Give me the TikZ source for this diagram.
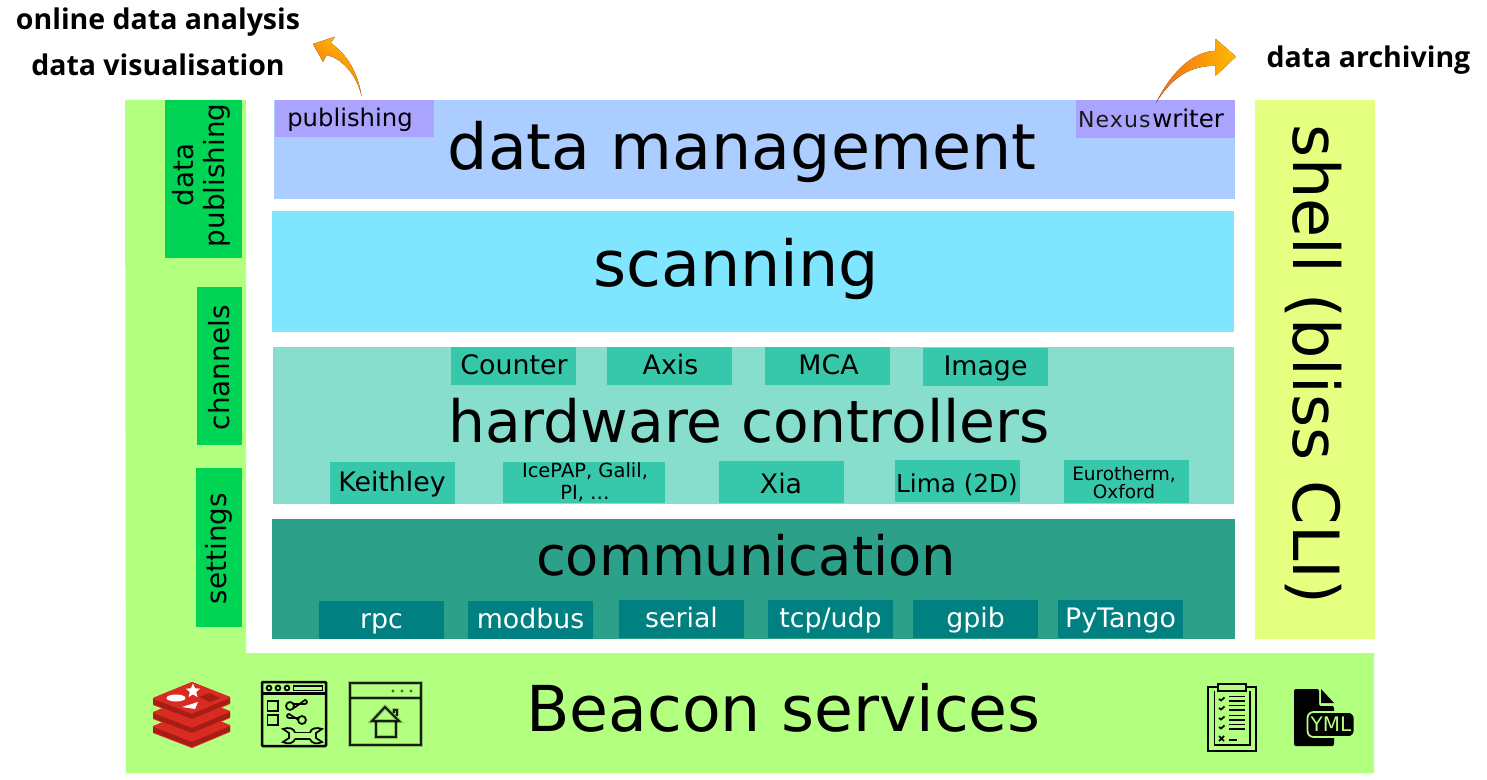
\documentclass[tikz,border=0pt]{standalone}
\usepackage{fontspec}
\usepackage{graphicx}
\setmainfont{DejaVu Sans}
\newfontfamily\labelfont{Open Sans}
\usetikzlibrary{shapes.geometric}
\newcommand\fs[1]{\pgfmathsetmacro\fsz{#1*0.5692}\pgfmathsetmacro\fsl{#1*0.5692*1.12}\fontsize{\fsz pt}{\fsl pt}\selectfont}
\definecolor{cmgmt}{HTML}{ABCDFF}
\definecolor{cpub}{HTML}{AAA4FF}
\definecolor{cscan}{HTML}{80E5FF}
\definecolor{chw}{HTML}{87DECD}
\definecolor{chwb}{HTML}{37C8AB}
\definecolor{ccomm}{HTML}{2CA089}
\definecolor{ccommb}{HTML}{008080}
\definecolor{cgreen}{HTML}{B3FF80}
\definecolor{cdkgreen}{HTML}{00D455}
\definecolor{cshell}{HTML}{E5FF80}
\definecolor{rlight}{HTML}{D92B21}
\definecolor{rdark}{HTML}{A41E15}
\definecolor{arrowa}{HTML}{F26A1B}
\definecolor{arrowb}{HTML}{FFBA00}
\tikzset{
  x=0.02cm,y=-0.02cm,
  boxnode/.style={inner sep=0pt,outer sep=0pt,draw=none,text height=0pt,text depth=0pt},
  iconline/.style={draw=black,line width=0.05cm,fill=none},
  iconthin/.style={draw=black,line width=0.035cm,fill=none},
  homeline/.style={draw=black,line width=0.04cm,draw opacity=.85,fill=none},
  homeblur/.style={draw=black,line width=0.08cm,draw opacity=.22,fill=none},
  big/.style={font=\fs{63.5}},
  mid/.style={font=\fs{26.8}},
  small/.style={font=\fs{18.5}},
  side/.style={font=\fs{27.8}},
  headline/.style={font=\labelfont\bfseries\fs{28.5},anchor=base,inner sep=0pt},
}
% name x1 y1 x2 y2 style textcx textbase text
\newcommand\bx[9]{%
  \pgfmathsetmacro\bxw{(#4-#2)*0.02}%
  \pgfmathsetmacro\bxh{(#5-#3)*0.02}%
  \pgfmathsetmacro\bxcx{(#2+#4)/2}%
  \pgfmathsetmacro\bxcy{(#3+#5)/2}%
  \pgfmathsetmacro\bxdx{(#7-\bxcx)*2*0.5692}%
  \pgfmathsetmacro\bxdy{(\bxcy-#8)*0.5692}%
  \node[boxnode,minimum width=\bxw cm,minimum height=\bxh cm,#6] (#1) at (\bxcx,\bxcy)
    {\makebox[0pt][c]{\hspace*{\bxdx pt}\raisebox{\bxdy pt}[0pt][0pt]{#9}}};%
}
\begin{document}
\begin{tikzpicture}
\useasboundingbox (0,0) rectangle (1487,780);
\fill[white] (0,0) rectangle (1487,780);
% green L
\fill[cgreen] (125,100) -- (246,100) -- (246,653) -- (1374,653) -- (1374,773) -- (126,773) -- cycle;
% side tabs
\bx{datapub}{165}{100}{242}{258}{fill=cdkgreen,side}{203}{247}{\rotatebox{90}{\begin{tabular}{@{}c@{}}data\\publishing\end{tabular}}}
\bx{channels}{197}{287}{242}{445}{fill=cdkgreen,side}{219}{430}{\rotatebox{90}{channels}}
\bx{settings}{196}{468}{242}{627}{fill=cdkgreen,side}{219}{604}{\rotatebox{90}{settings}}
% layers
\bx{mgmt}{274}{100}{1235}{199}{fill=cmgmt,big}{742}{170}{data management}
\bx{publishing}{275}{100}{434}{137}{fill=cpub,font=\fs{24.3}}{350}{127}{publishing}
\bx{nexus}{1076}{100}{1235}{138}{fill=cpub,font=\fs{24.5}}{1151}{128}{{\fs{22}\addfontfeature{LetterSpace=5}\color{black!90}Nexus}\hspace{1pt}writer}
\bx{scanning}{272}{211}{1234}{332}{fill=cscan,big}{736}{286}{scanning}
\bx{hardware}{273}{347}{1234}{504}{fill=chw,font=\fs{58.3}}{749}{442}{hardware controllers}
\bx{counter}{451}{347}{576}{385}{fill=chwb,mid}{514}{374}{Counter}
\bx{axis}{607}{347}{732}{385}{fill=chwb,mid}{670.5}{374}{Axis}
\bx{mca}{765}{347}{890}{385}{fill=chwb,mid}{828.5}{374}{MCA}
\bx{image}{923}{348}{1048}{386}{fill=chwb,mid}{985.5}{375}{Image}
\bx{keithley}{330}{462}{455}{504}{fill=chwb,mid}{392}{491}{Keithley}
\bx{icepap}{503}{462}{665}{503}{fill=chwb,font=\fs{19.5}}{585}{489}{\begin{tabular}{@{}c@{}}IcePAP, Galil,\\PI, \dots\end{tabular}}
\bx{xia}{719}{461}{844}{503}{fill=chwb,mid}{781}{493}{Xia}
\bx{lima}{895}{460}{1020}{502}{fill=chwb,font=\fs{24.7}}{957}{492}{Lima (2D)}
\bx{eurotherm}{1064}{460}{1189}{503}{fill=chwb,small}{1124}{490}{\begin{tabular}{@{}c@{}}Eurotherm,\\[-1.5pt]Oxford\end{tabular}}
\bx{comm}{272}{519}{1235}{639}{fill=ccomm,font=\fs{54.3}}{746}{575}{communication}
\bx{rpc}{319}{601}{444}{639}{fill=ccommb,mid,text=white}{381.5}{628}{rpc}
\bx{modbus}{468}{601}{593}{639}{fill=ccommb,mid,text=white}{530.5}{628}{modbus}
\bx{serial}{619}{600}{744}{638}{fill=ccommb,mid,text=white}{681.5}{627}{serial}
\bx{tcp}{768}{600}{893}{638}{fill=ccommb,mid,text=white}{830.5}{627}{tcp/udp}
\bx{gpib}{913}{600}{1038}{638}{fill=ccommb,mid,text=white}{975.5}{627}{gpib}
\bx{pytango}{1058}{600}{1183}{638}{fill=ccommb,mid,text=white}{1120.5}{627}{PyTango}
\bx{shell}{1255}{100}{1375}{639}{fill=cshell,font=\fs{63.7}}{1313}{125}{\rotatebox{-90}{shell (bliss CLI)}}
% beacon label
\node[font=\fs{63.3},anchor=base,inner sep=0pt] (beacon) at (783.5,731) {Beacon services};
% headlines
\node[headline] (online) at (158,30) {online data analysis};
\node[headline] (visual) at (158,76) {data visualisation};
\node[headline] (archiv) at (1368.5,68) {data archiving};
% curved arrows
\fill[top color=arrowb,bottom color=arrowa,shading angle=-35]
  (361.7,96.7) .. controls (359,80) and (352,58) .. (330.7,43) -- (335,36.7) -- (313,44) -- (323,61.7) -- (326.7,55)
  .. controls (340,58) and (356,72) .. cycle;
\fill[left color=arrowa,right color=arrowb]
  (1155.7,103.3) .. controls (1170,75) and (1190,52) .. (1215.7,50.7) -- (1215.7,39) -- (1236,56.7) -- (1215.7,75.7) -- (1215.7,65.7)
  .. controls (1195,66) and (1175,72) .. cycle;
% redis icon
\foreach \d in {28,14,0}{
  \fill[rlight] (192,{682+\d}) -- (230,{697+\d}) -- (230,{704+\d}) -- (192,{720+\d}) -- (153,{705+\d}) -- (153,{698+\d}) -- cycle;
  \fill[rdark] (153,{699+\d}) -- (192,{714+\d}) -- (230,{698+\d}) -- (230,{703+\d}) -- (192,{719+\d}) -- (153,{704+\d}) -- cycle;
}
\fill[rlight] (192,682) -- (230,697) -- (192,713) -- (153,698) -- cycle;
\fill[white] (176,698) ellipse [x radius=9.5,y radius=3.5];
\node[star,star points=5,star point ratio=2.2,fill=white,inner sep=0pt,minimum size=0.3cm] (redisstar) at (193,691) {};
\fill[white] (182,707) -- (198,702) -- (195,709) -- cycle;
\fill[rdark] (199,697) -- (210,693) -- (220,698) -- (210,702) -- cycle;
% settings icon
\draw[iconline,rounded corners=0.02cm] (262,682) rectangle (326,746);
\draw[iconline] (262,693.5) -- (326,693.5);
\foreach \cx in {269,278,287}{\draw[iconthin] (\cx,688) circle [radius=2.4];}
\draw[iconthin] (293.5,686) rectangle (322.5,690.5);
\draw[iconthin] (267.5,701) rectangle (278,711);
\draw[iconthin] (267.5,715) rectangle (278,725);
\draw[iconthin] (294,704) -- (305,704) arc (90:-90:2) -- (294,708);
\draw[iconthin,fill=cgreen] (290,706) circle [radius=4];
\draw[iconthin] (302,718) -- (289,718) arc (90:270:2) -- (302,722);
\draw[iconthin,fill=cgreen] (302,720) circle [radius=4];
\draw[iconthin] (295,732.5) -- (310,732.5);
\draw[iconthin] (295,739) -- (310,739);
\draw[iconthin] (295,732.5) .. controls (294,728) and (288,727) .. (283,729) -- (289,733) -- (289,738) -- (283,742) .. controls (288,745) and (294,743) .. (295,739);
\draw[iconthin] (310,732.5) .. controls (311,728) and (317,727) .. (322,729) -- (316,733) -- (316,738) -- (322,742) .. controls (317,745) and (311,743) .. (310,739);
% home icon
\foreach \st in {homeblur,homeline}{
  \draw[\st] (349.5,683) rectangle (421,745);
  \draw[\st] (349.5,698) -- (421,698);
  \draw[\st] (372,721) -- (385,707) -- (399,721) -- cycle;
  \draw[\st] (376,721) -- (376,737) -- (396,737) -- (396,721);
  \draw[\st] (394,713) -- (394,710) -- (397,710) -- (397,716);
}
\foreach \cx in {393,402,411}{\fill[black,opacity=.6] (\cx,691) circle [radius=1.7];}
% clipboard icon
\draw[iconthin] (1218,687) -- (1208,687) -- (1208,751) -- (1256,751) -- (1256,687) -- (1246,687);
\draw[iconthin,fill=cgreen] (1218,684) rectangle (1246,691);
\draw[iconthin] (1214.5,691) -- (1214.5,745) -- (1250,745) -- (1250,691);
\foreach \cy in {699,708,718,727}{
  \draw[iconthin] (1219,\cy) -- (1221,{\cy+1.5}) -- (1224.5,{\cy-1.5});
  \draw[iconthin,line width=0.025cm] (1229,{\cy-2.5}) -- (1245,{\cy-2.5}) (1229,{\cy+2}) -- (1245,{\cy+2});
}
\draw[iconthin] (1219,736) -- (1224,741) (1224,736) -- (1219,741);
\draw[iconthin] (1229,740) -- (1237,740);
% yml icon
\fill[black,rounded corners=0.04cm] (1294,689) -- (1319,689) -- (1319,706) -- (1334,706) -- (1334,746) -- (1294,746) -- cycle;
\fill[black] (1321,689) -- (1334,703) -- (1321,703) -- cycle;
\node[rounded corners=0.12cm,fill=black,draw=cgreen,line width=0.035cm,inner sep=0pt,minimum width=0.94cm,minimum height=0.5cm,text=cgreen,font=\fs{20}] (yml) at (1331,724.5) {YML};
\end{tikzpicture}
\end{document}
